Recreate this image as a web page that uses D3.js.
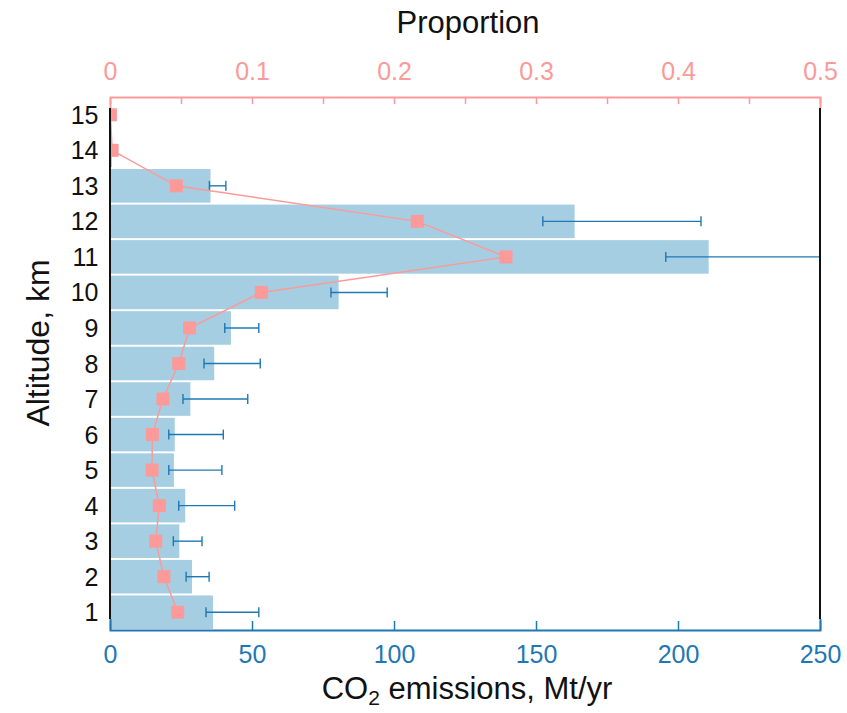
<!DOCTYPE html>
<html>
<head>
<meta charset="utf-8">
<script src="https://cdn.jsdelivr.net/npm/d3@7"></script>
<style>
  html, body { margin: 0; padding: 0; background: #ffffff; }
  svg { display: block; font-family: "Liberation Sans", Arial, Helvetica, sans-serif; }
</style>
</head>
<body>
<svg id="chart" width="847" height="713"></svg>
<script>
// Altitude bands (km)
const altitudes = [1, 2, 3, 4, 5, 6, 7, 8, 9, 10, 11, 12, 13, 14, 15];
// CO2 emissions per altitude band, Mt/yr
const emissions = [36.3, 28.9, 24.4, 26.5, 22.5, 22.8, 28.3, 36.7, 42.6, 80.5, 210.8, 163.6, 35.4, 0.7, 0];
// Uncertainty range of emissions (lower / upper), Mt/yr
const errLow  = [33.8, 26.8, 22.3, 24.2, 20.7, 20.7, 25.7, 33.1, 40.4, 77.8, 195.7, 152.4, 35.0, null, null];
const errHigh = [52.4, 34.9, 32.4, 43.9, 39.4, 39.9, 48.5, 52.9, 52.4, 97.6, 250, 208.1, 40.8, null, null];
// Share of flights per altitude band
const proportion = [0.0477, 0.038, 0.0322, 0.0347, 0.0296, 0.0298, 0.0373, 0.0484, 0.0561, 0.1066, 0.2789, 0.2164, 0.0467, 0.0015, 0.0003];

const emissionTicks = [0, 50, 100, 150, 200, 250];
const proportionTicks = [0, 0.05, 0.1, 0.15, 0.2, 0.25, 0.3, 0.35, 0.4, 0.45, 0.5];
const proportionLabels = [0, 0.1, 0.2, 0.3, 0.4, 0.5];

const C_BAR = "#a6cee3", C_ERR = "#1f78b4", C_PROP = "#fb9a99";

const svg = d3.select("#chart");
const box = { left: 110, right: 820, top: 97, bottom: 630 };

const x = d3.scaleLinear().domain([0, 250]).range([box.left, box.right]);
const xp = d3.scaleLinear().domain([0, 0.5]).range([box.left, box.right]);
const y = d3.scaleBand().domain(altitudes.slice().reverse())
  .range([box.top, box.bottom]).paddingInner(0.055).paddingOuter(0.0275);

const rows = altitudes.map((a, i) => ({
  alt: a, val: emissions[i], lo: errLow[i], hi: errHigh[i], p: proportion[i]
}));

svg.append("defs").append("clipPath").attr("id", "plot-clip")
  .append("rect").attr("x", box.left).attr("y", box.top)
  .attr("width", box.right - box.left).attr("height", box.bottom - box.top);

const plot = svg.append("g").attr("clip-path", "url(#plot-clip)");

// emission bars
plot.selectAll("rect.bar").data(rows).join("rect")
  .attr("class", "bar")
  .attr("x", x(0))
  .attr("y", d => y(d.alt))
  .attr("width", d => x(d.val) - x(0))
  .attr("height", y.bandwidth())
  .attr("fill", C_BAR);

// error bars
const cy = d => y(d.alt) + y.bandwidth() / 2;
const eb = plot.selectAll("g.err").data(rows.filter(d => d.lo != null)).join("g").attr("class", "err")
  .attr("stroke", C_ERR).attr("stroke-width", 1.4).attr("fill", "none");
eb.append("line").attr("x1", d => x(d.lo)).attr("x2", d => x(d.hi)).attr("y1", cy).attr("y2", cy);
eb.append("line").attr("x1", d => x(d.lo)).attr("x2", d => x(d.lo)).attr("y1", d => cy(d) - 5).attr("y2", d => cy(d) + 5);
eb.append("line").attr("x1", d => x(d.hi)).attr("x2", d => x(d.hi)).attr("y1", d => cy(d) - 5).attr("y2", d => cy(d) + 5);

// proportion line and markers
plot.append("path").datum(rows)
  .attr("fill", "none").attr("stroke", C_PROP).attr("stroke-width", 1.5)
  .attr("d", d3.line().x(d => xp(d.p)).y(cy));
const ms = 13;
plot.selectAll("rect.mk").data(rows).join("rect")
  .attr("class", "mk")
  .attr("x", d => xp(d.p) - ms / 2)
  .attr("y", d => cy(d) - ms / 2)
  .attr("width", ms).attr("height", ms)
  .attr("fill", C_PROP);

// left / right frame lines
[box.left, box.right].forEach(xx => {
  svg.append("line").attr("x1", xx).attr("x2", xx).attr("y1", box.top + 11).attr("y2", box.bottom - 11)
    .attr("stroke", "#111").attr("stroke-width", 2);
});

// top axis: proportion
const axTop = svg.append("g").attr("transform", `translate(0,${box.top})`)
  .call(d3.axisTop(xp).tickValues(proportionTicks).tickSizeInner(-7).tickSizeOuter(-11).tickPadding(17)
    .tickFormat(d => proportionLabels.some(v => Math.abs(v - d) < 1e-9) ? d3.format("~g")(d) : ""));
axTop.attr("font-family", null);
axTop.select(".domain").attr("stroke", C_PROP).attr("stroke-width", 2);
axTop.selectAll(".tick line").attr("stroke", C_PROP).attr("stroke-width", 1.5);
axTop.selectAll(".tick text").attr("fill", C_PROP).attr("font-size", 25);

// bottom axis: emissions
const axBot = svg.append("g").attr("transform", `translate(0,${box.bottom})`)
  .call(d3.axisBottom(x).tickValues(emissionTicks).tickSizeInner(-9).tickSizeOuter(-11).tickPadding(15));
axBot.attr("font-family", null);
axBot.select(".domain").attr("stroke", C_ERR).attr("stroke-width", 2);
axBot.selectAll(".tick line").attr("stroke", C_ERR).attr("stroke-width", 1.5);
axBot.selectAll(".tick text").attr("fill", C_ERR).attr("font-size", 25);

// altitude labels
svg.append("g").selectAll("text").data(altitudes).join("text")
  .attr("x", 98.5)
  .attr("y", d => y(d) + y.bandwidth() / 2)
  .attr("dy", "0.36em")
  .attr("text-anchor", "end")
  .attr("font-size", 25)
  .attr("fill", "#111")
  .text(d => d);

// titles
svg.append("text").attr("x", 468).attr("y", 33).attr("text-anchor", "middle")
  .attr("font-size", 31).attr("fill", "#111").text("Proportion");

const xt = svg.append("text").attr("x", 467).attr("y", 699).attr("text-anchor", "middle")
  .attr("font-size", 31).attr("fill", "#111");
xt.append("tspan").text("CO");
xt.append("tspan").attr("font-size", 21).attr("dy", 6).text("2");
xt.append("tspan").attr("dy", -6).text(" emissions, Mt/yr");

svg.append("text").attr("transform", "translate(49,343) rotate(-90)").attr("text-anchor", "middle")
  .attr("font-size", 32).attr("fill", "#111").text("Altitude, km");
</script>
</body>
</html>
